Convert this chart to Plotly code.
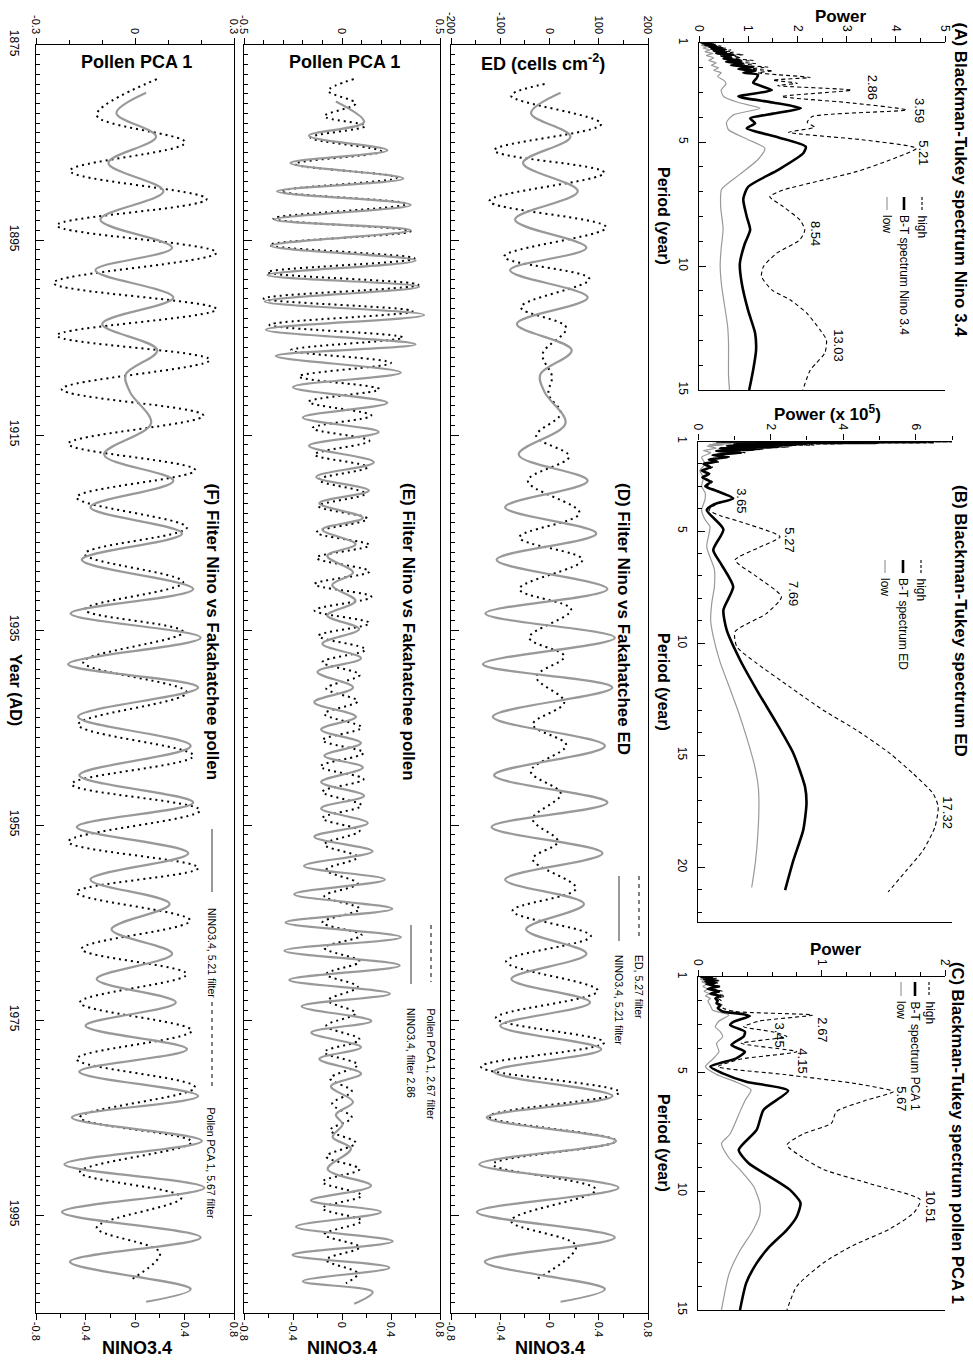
import plotly.graph_objects as go

# ---------------- DATA ----------------
# Panel A: Blackman-Tukey spectrum Nino 3.4 (period in years, power)
A_high_period = [1.0, 1.05, 1.08, 1.12, 1.15, 1.2, 1.24, 1.28, 1.32, 1.37, 1.42, 1.47, 1.52, 1.58, 1.63, 1.7, 1.76, 1.83,
                 1.9, 1.97, 2.05, 2.12, 2.2, 2.28, 2.39, 2.5, 2.62, 2.72, 2.9, 3.16, 3.4, 3.7, 3.97, 4.2, 4.4, 4.6, 4.9,
                 5.25, 5.72, 6.19, 6.59, 6.93, 7.2, 7.6, 8.14, 8.54, 8.94, 9.48, 10.02, 10.42, 10.96, 11.36, 11.9, 12.57,
                 12.98, 13.5, 13.9, 14.2, 15.0]
A_high_power = [0.08, 0.35, 0.15, 0.45, 0.25, 0.55, 0.3, 0.65, 0.4, 0.7, 0.45, 0.9, 0.6, 0.85, 0.65, 1.1, 0.7, 1.15,
                0.85, 1.4, 1.0, 1.5, 1.2, 1.6, 2.26, 1.5, 2.0, 1.6, 3.1, 1.68, 3.0, 4.22, 2.3, 2.2, 2.35, 1.82, 3.3,
                4.42, 3.88, 3.2, 2.39, 1.71, 1.44, 1.71, 2.05, 2.15, 2.05, 1.58, 1.31, 1.27, 1.48, 1.85, 2.19, 2.46,
                2.59, 2.56, 2.39, 2.26, 2.11]
A_bt_period = [1.0, 1.05, 1.08, 1.12, 1.15, 1.2, 1.24, 1.28, 1.32, 1.37, 1.42, 1.47, 1.52, 1.58, 1.63, 1.7, 1.76, 1.83,
               1.9, 1.97, 2.05, 2.12, 2.2, 2.28, 2.42, 2.6, 2.9, 3.16, 3.4, 3.63, 3.85, 4.04, 4.24, 4.44, 4.8, 5.18,
               5.45, 6.12, 6.8, 7.3, 8.0, 8.54, 9.1, 9.9, 10.7, 11.8, 12.7, 13.4, 14.2, 15.0]
A_bt_power = [0.05, 0.25, 0.12, 0.35, 0.2, 0.45, 0.25, 0.5, 0.3, 0.55, 0.35, 0.7, 0.45, 0.65, 0.5, 0.85, 0.55, 0.9,
              0.65, 1.1, 0.8, 1.15, 0.9, 1.2, 1.17, 1.1, 1.48, 0.8, 1.5, 2.07, 1.5, 1.04, 1.14, 0.97, 1.6, 2.17,
              2.12, 1.61, 1.0, 0.9, 0.97, 1.04, 0.93, 0.83, 0.87, 1.0, 1.14, 1.16, 1.1, 1.02]
A_low_period = [1.0, 1.05, 1.1, 1.15, 1.2, 1.28, 1.35, 1.42, 1.5, 1.6, 1.7, 1.8, 1.9, 2.0, 2.1, 2.2, 2.35, 2.5, 2.65,
                2.9, 3.16, 3.4, 3.63, 3.9, 4.2, 4.5, 4.9, 5.25, 5.7, 6.3, 6.9, 7.6, 8.5, 9.3, 10.0, 10.8, 11.6, 12.4,
                13.1, 13.8, 14.4, 15.0]
A_low_power = [0.02, 0.12, 0.05, 0.18, 0.08, 0.22, 0.12, 0.28, 0.15, 0.3, 0.2, 0.35, 0.25, 0.4, 0.3, 0.45, 0.38, 0.5,
               0.55, 0.45, 0.5, 0.8, 1.24, 0.7, 0.56, 0.6, 1.0, 1.34, 1.2, 0.83, 0.46, 0.44, 0.49, 0.45, 0.43, 0.46,
               0.52, 0.58, 0.6, 0.6, 0.6, 0.62]
A_peak_labels = ["2.86", "3.59", "5.21", "8.54", "13.03"]
A_label_power = [3.52, 4.47, 4.57, 2.38, 2.83]
A_label_period = [2.77, 3.74, 5.44, 8.67, 13.2]

# Panel B: Blackman-Tukey spectrum ED (power x 1e5)
B_high_period = [1.0, 1.02, 1.04, 1.06, 1.08, 1.1, 1.13, 1.16, 1.2, 1.25, 1.3, 1.35, 1.42, 1.5, 1.6, 1.7, 1.8, 1.9,
                 2.0, 2.15, 2.3, 2.45, 2.6, 2.8, 3.0, 3.2, 3.54, 3.8, 4.07, 4.3, 4.58, 5.25, 5.77, 6.29, 7.03, 7.93,
                 8.67, 9.49, 10.16, 10.9, 11.95, 12.99, 13.88, 14.92, 15.82, 16.71, 17.3, 18.2, 19.23, 20.13, 21.1]
B_high_power = [1.0, 7.0, 3.0, 6.5, 2.0, 4.0, 1.5, 3.2, 1.2, 2.5, 0.8, 1.8, 0.6, 1.3, 0.5, 0.9, 0.35, 0.6,
                0.2, 0.4, 0.15, 0.35, 0.15, 0.4, 0.25, 0.55, 0.97, 0.5, 0.3, 0.6, 1.16, 2.26, 1.62, 1.02, 1.62, 2.3,
                1.89, 1.02, 1.07, 1.62, 2.53, 3.45, 4.37, 5.29, 5.93, 6.48, 6.62, 6.53, 6.21, 5.75, 5.24]
B_bt_period = [1.0, 1.02, 1.04, 1.06, 1.08, 1.1, 1.13, 1.16, 1.2, 1.25, 1.3, 1.35, 1.42, 1.5, 1.6, 1.7, 1.8, 1.9,
               2.0, 2.15, 2.3, 2.45, 2.6, 2.8, 3.0, 3.2, 3.54, 3.8, 4.06, 4.92, 5.84, 6.5, 7.48, 8.52, 9.41, 10.75,
               12.09, 13.58, 14.92, 16.41, 17.15, 18.34, 19.68, 21.02]
B_bt_power = [0.5, 6.2, 2.0, 5.0, 1.5, 3.0, 1.0, 2.6, 0.8, 2.2, 0.6, 1.6, 0.5, 1.2, 0.4, 0.8, 0.3, 0.5,
              0.15, 0.35, 0.1, 0.3, 0.12, 0.35, 0.2, 0.5, 0.97, 0.45, 0.24, 0.70, 0.42, 0.65, 0.97, 0.70, 0.79, 1.16,
              1.62, 2.17, 2.63, 2.95, 2.99, 2.90, 2.63, 2.40]
B_low_period = [1.0, 1.02, 1.04, 1.06, 1.08, 1.1, 1.13, 1.16, 1.2, 1.3, 1.4, 1.5, 1.7, 2.0, 2.3, 2.6, 3.0, 3.3, 3.6,
                4.07, 4.5, 4.8, 5.7, 6.7, 7.5, 8.2, 9.0, 9.7, 10.8, 11.9, 13.0, 14.2, 15.4, 16.4, 17.2, 18.5, 19.8,
                20.9]
B_low_power = [0.2, 1.8, 0.6, 1.4, 0.4, 0.9, 0.3, 0.7, 0.25, 0.5, 0.15, 0.35, 0.1, 0.2, 0.05, 0.15, 0.1, 0.2, 0.19,
               0.1, 0.2, 0.33, 0.24, 0.45, 0.45, 0.38, 0.35, 0.42, 0.6, 0.85, 1.1, 1.34, 1.55, 1.66, 1.68, 1.65, 1.58,
               1.48]
B_peak_labels = ["3.65", "5.27", "7.69", "17.32"]
B_label_power = [1.20, 2.53, 2.63, 6.87]
B_label_period = [3.64, 5.40, 7.78, 17.56]

# Panel C: Blackman-Tukey spectrum pollen PCA 1
C_high_period = [1.0, 1.05, 1.1, 1.15, 1.2, 1.25, 1.3, 1.4, 1.5, 1.6, 1.7, 1.8, 1.9, 2.0, 2.1, 2.2, 2.3, 2.45, 2.6,
                 2.85, 3.09, 3.3, 3.5, 3.79, 4.14, 4.45, 4.77, 5.1, 5.5, 5.82, 6.2, 6.66, 7.15, 7.6, 8.06, 8.6, 9.1,
                 9.7, 10.37, 10.9, 11.6, 12.3, 13.0, 14.0, 15.0]
C_high_power = [0.03, 0.15, 0.06, 0.18, 0.07, 0.16, 0.08, 0.19, 0.09, 0.2, 0.12, 0.22, 0.16, 0.19, 0.17, 0.2, 0.2,
                0.3, 0.93, 0.5, 0.37, 0.6, 0.72, 0.35, 0.80, 0.35, 0.16, 0.7, 1.3, 1.58, 1.35, 1.12, 1.08, 0.85, 0.72,
                0.85, 1.02, 1.4, 1.80, 1.75, 1.55, 1.25, 1.02, 0.8, 0.72]
C_bt_period = [1.0, 1.05, 1.1, 1.15, 1.2, 1.25, 1.3, 1.4, 1.5, 1.6, 1.7, 1.8, 1.9, 2.0, 2.1, 2.2, 2.3, 2.45, 2.55,
               2.64, 2.88, 3.02, 3.3, 3.5, 3.86, 4.14, 4.42, 4.77, 5.05, 5.4, 5.78, 6.59, 7.43, 8.27, 8.83, 9.39,
               9.95, 10.5, 11.07, 11.63, 12.33, 13.03, 13.87, 15.0]
C_bt_power = [0.02, 0.12, 0.05, 0.15, 0.06, 0.14, 0.07, 0.16, 0.08, 0.17, 0.1, 0.18, 0.14, 0.16, 0.15, 0.18, 0.16,
              0.2, 0.35, 0.42, 0.29, 0.26, 0.38, 0.37, 0.27, 0.38, 0.31, 0.10, 0.2, 0.39, 0.73, 0.53, 0.475, 0.33,
              0.41, 0.58, 0.745, 0.83, 0.80, 0.72, 0.58, 0.475, 0.39, 0.34]
C_low_period = [1.0, 1.05, 1.1, 1.15, 1.2, 1.3, 1.4, 1.5, 1.6, 1.7, 1.8, 1.9, 2.0, 2.2, 2.4, 2.6, 2.85, 3.09, 3.3,
                3.5, 3.8, 4.14, 4.45, 4.77, 5.1, 5.4, 5.75, 6.2, 6.66, 7.6, 8.0, 8.6, 9.1, 9.8, 10.5, 11.0, 11.7, 12.5,
                13.5, 15.0]
C_low_power = [0.01, 0.06, 0.02, 0.08, 0.03, 0.07, 0.04, 0.08, 0.05, 0.09, 0.06, 0.1, 0.08, 0.1, 0.12, 0.25, 0.17,
               0.14, 0.18, 0.2, 0.15, 0.17, 0.12, 0.06, 0.15, 0.3, 0.43, 0.38, 0.34, 0.26, 0.19, 0.25, 0.34, 0.45,
               0.50, 0.5, 0.44, 0.34, 0.25, 0.19]
C_peak_labels = ["2.67", "3.45", "4.15", "5.67", "10.51"]
C_label_power = [1.01, 0.66, 0.845, 1.65, 1.88]
C_label_period = [3.23, 3.44, 4.52, 6.13, 10.65]

# NINO3.4, 5.21 filter (used in D and F)
NINO521_year = [1879.9, 1882.0, 1884.4, 1887.1, 1890.0, 1892.9, 1895.8, 1898.1, 1900.9, 1903.6, 1906.3, 1908.8,
                1910.6, 1913.8, 1917.0, 1919.7, 1922.4, 1925.1, 1927.8, 1930.8, 1933.3, 1935.8, 1938.5, 1940.9,
                1943.9, 1946.9, 1949.9, 1952.7, 1955.2, 1957.9, 1960.6, 1963.1, 1965.7, 1968.2, 1970.8, 1973.2,
                1975.6, 1978.0, 1980.3, 1982.8, 1985.0, 1987.4, 1989.8, 1992.2, 1994.7, 1997.3, 1999.8, 2002.6,
                2003.9]
NINO521_val = [0.09, -0.15, 0.17, -0.215, 0.23, -0.28, 0.30, -0.32, 0.31, -0.265, 0.18, -0.075,
               -0.04, 0.13, -0.25, 0.31, -0.36, 0.38, -0.43, 0.47, -0.52, 0.53, -0.54, 0.51,
               -0.46, 0.45, -0.45, 0.47, -0.47, 0.43, -0.36, 0.28, -0.19, 0.30, -0.31, 0.33,
               -0.40, 0.42, -0.45, 0.51, -0.51, 0.54, -0.57, 0.56, -0.59, 0.53, -0.525, 0.45, 0.09]

# ED, 5.27 filter (panel D)
ED527_year = [1879.0, 1880.2, 1883.1, 1885.8, 1888.1, 1891.0, 1893.7, 1896.7, 1899.0, 1901.9, 1904.0, 1906.7,
              1909.0, 1910.8, 1912.8, 1915.1, 1917.2, 1919.7, 1923.0, 1925.5, 1927.8, 1930.8, 1932.9, 1935.8,
              1937.7, 1939.8, 1942.4, 1944.7, 1946.8, 1949.5, 1951.8, 1954.4, 1956.7, 1958.5, 1961.5, 1963.8,
              1966.4, 1969.0, 1972.0, 1974.8, 1977.3, 1979.8, 1982.4, 1984.9, 1987.4, 1989.8, 1992.4, 1995.6,
              1998.2, 2001.6]
ED527_val = [-10, -78, 105, -112, 111, -122, 115, -92, 81, -58, 34, -14,
             5, -2, 23, -27, 40, -44, 61, -61, 67, -61, 44, -41,
             30, -27, 30, -34, 34, -38, 23, -34, 17, -34, 54, -75,
             84, -88, 98, -109, 111, -139, 142, -122, 135, -115, 94, -78,
             54, -27]

# NINO3.4, filter 2.86 (panel E)
NINO286_year = [1880.8, 1882.9, 1884.3, 1885.8, 1887.1, 1888.7, 1890.0, 1891.4, 1892.9, 1894.0, 1895.6, 1897.1,
                1898.6, 1899.8, 1901.3, 1902.7, 1904.2, 1905.7, 1906.9, 1908.6, 1910.1, 1911.7, 1913.2, 1914.7,
                1916.1, 1917.8, 1919.3, 1920.7, 1922.0, 1923.5, 1924.7, 1926.2, 1927.4, 1929.1, 1930.4, 1932.0,
                1933.5, 1934.9, 1936.4, 1937.9, 1939.3, 1940.9, 1942.4, 1943.9, 1945.2, 1946.6, 1947.9, 1949.1,
                1950.6, 1952.0, 1953.3, 1954.8, 1956.2, 1957.7, 1959.2, 1960.6, 1962.1, 1963.6, 1965.0, 1966.5,
                1967.9, 1969.4, 1970.9, 1972.3, 1973.6, 1975.1, 1976.3, 1977.8, 1979.0, 1980.5, 1981.8, 1983.4,
                1984.7, 1985.7, 1987.0, 1988.2, 1990.3, 1992.0, 1993.5, 1994.7, 1996.2, 1997.7, 1999.1, 2000.4,
                2001.8, 2002.9, 2004.1]
NINO286_val = [-0.05, 0.18, -0.27, 0.37, -0.42, 0.50, -0.53, 0.56, -0.55, 0.56, -0.58, 0.60,
               -0.61, 0.63, -0.63, 0.67, -0.62, 0.60, -0.54, 0.48, -0.40, 0.37, -0.32, 0.30,
               -0.27, 0.26, -0.21, 0.22, -0.185, 0.17, -0.16, 0.11, -0.12, 0.09, -0.08, 0.11,
               -0.12, 0.14, -0.16, 0.155, -0.20, 0.09, -0.226, 0.114, -0.17, 0.155, -0.144, 0.17,
               -0.17, 0.18, -0.17, 0.21, -0.226, 0.25, -0.31, 0.35, -0.39, 0.41, -0.46, 0.48,
               -0.47, 0.47, -0.43, 0.39, -0.33, 0.24, -0.25, 0.155, -0.185, 0.155, -0.09, 0.09,
               -0.05, 0.005, -0.076, 0.073, -0.117, 0.237, -0.253, 0.318, -0.375, 0.414, -0.403, 0.386,
               -0.32, 0.25, 0.10]

# Pollen PCA 1, 2.67 filter (panel E)
PCA267_year = [1878.5, 1879.7, 1881.0, 1882.3, 1883.3, 1884.5, 1885.9, 1887.2, 1888.6, 1890.0, 1891.3, 1892.8,
               1894.1, 1895.5, 1896.9, 1898.3, 1899.6, 1901.0, 1902.3, 1903.7, 1905.0, 1906.3, 1907.6, 1909.0,
               1910.3, 1911.6, 1913.0, 1914.3, 1915.6, 1917.0, 1918.3, 1919.6, 1921.0, 1922.3, 1923.6, 1925.0,
               1926.3, 1927.6, 1929.0, 1930.3, 1931.6, 1933.0, 1934.3, 1935.6, 1937.0, 1938.3, 1939.6, 1941.0,
               1942.3, 1943.6, 1945.0, 1946.3, 1947.6, 1949.0, 1950.3, 1951.6, 1953.0, 1954.3, 1955.6, 1957.0,
               1958.3, 1959.6, 1961.0, 1962.3, 1963.6, 1965.0, 1966.3, 1967.6, 1969.0, 1970.3, 1971.6, 1973.0,
               1974.3, 1975.6, 1977.0, 1978.3, 1979.6, 1981.0, 1982.3, 1983.6, 1985.0, 1986.3, 1987.6, 1989.0,
               1990.3, 1991.6, 1993.0, 1994.3, 1995.6, 1997.0, 1998.3, 1999.6, 2001.0, 2002.0]
PCA267_val = [0.06, -0.07, 0.07, -0.09, 0.12, -0.16, 0.20, -0.24, 0.28, -0.31, 0.33, -0.35,
              0.35, -0.37, 0.37, -0.38, 0.39, -0.40, 0.36, -0.37, 0.31, -0.26, 0.25, -0.22,
              0.19, -0.17, 0.15, -0.15, 0.14, -0.14, 0.13, -0.12, 0.12, -0.12, 0.13, -0.13,
              0.14, -0.13, 0.14, -0.14, 0.15, -0.14, 0.14, -0.12, 0.12, -0.10, 0.09, -0.08,
              0.08, -0.09, 0.10, -0.10, 0.11, -0.11, 0.11, -0.10, 0.10, -0.10, 0.09, -0.09,
              0.08, -0.08, 0.08, -0.09, 0.09, -0.10, 0.10, -0.09, 0.09, -0.08, 0.08, -0.07,
              0.07, -0.08, 0.09, -0.09, 0.08, -0.06, 0.05, -0.05, 0.05, -0.06, 0.07, -0.08,
              0.09, -0.10, 0.10, -0.10, 0.10, -0.09, 0.09, -0.08, 0.08, 0.02]

# Pollen PCA 1, 5.67 filter (panel F)
PCA567_year = [1878.5, 1882.2, 1885.0, 1887.9, 1890.8, 1893.5, 1896.3, 1899.4, 1902.1, 1904.8, 1907.3, 1910.3,
               1913.0, 1915.9, 1918.6, 1921.4, 1924.5, 1927.2, 1930.1, 1932.9, 1935.2, 1938.3, 1941.4, 1944.7,
               1947.9, 1950.8, 1953.5, 1956.7, 1959.4, 1961.9, 1964.8, 1967.7, 1970.3, 1973.2, 1976.1, 1979.0,
               1981.9, 1985.0, 1987.5, 1990.6, 1993.2, 1996.3, 1998.9, 2001.7]
PCA567_val = [0.066, -0.116, 0.152, -0.197, 0.217, -0.237, 0.247, -0.247, 0.247, -0.237, 0.227, -0.222,
              0.207, -0.202, 0.182, -0.177, 0.157, -0.152, 0.146, -0.152, 0.146, -0.157, 0.157, -0.172,
              0.177, -0.192, 0.197, -0.202, 0.192, -0.177, 0.167, -0.162, 0.157, -0.167, 0.172, -0.177,
              0.182, -0.167, 0.172, -0.167, 0.141, -0.116, 0.076, -0.015]

# Tick labels
POWER_A_TICKS = [0, 1, 2, 3, 4, 5]
POWER_B_TICKS = [0, 2, 4, 6]
POWER_C_TICKS = [0, 1, 2]
PERIOD_TICKS_15 = [1, 5, 10, 15]
PERIOD_TICKS_20 = [1, 5, 10, 15, 20]
YEAR_TICKS = [1875, 1895, 1915, 1935, 1955, 1975, 1995]
ED_TICKS = [-200, -100, 0, 100, 200]
PCA_E_TICKS = [-0.5, 0, 0.5]
PCA_F_TICKS = [-0.3, 0, 0.3]
NINO_TICKS = [-0.8, -0.4, 0, 0.4, 0.8]

# ---------------- FIGURE ----------------
W, H = 973, 1363
FONT = "Liberation Sans, Arial, sans-serif"
GRAY = "#999999"


def PX(x):
    return x / W


def PY(y):
    return 1 - y / H


def lab(v):
    return "%g" % v


def frange(a, b, step):
    out = []
    n = int(round((b - a) / step))
    for i in range(n + 1):
        out.append(round(a + i * step, 6))
    return out


fig = go.Figure()


def spec_traces(xa, ya, hp, hv, bp, bv, lp, lv):
    fig.add_trace(go.Scatter(x=lv, y=lp, xaxis=xa, yaxis=ya, mode="lines",
                             line=dict(color=GRAY, width=1.2, shape="spline", smoothing=0.6), hoverinfo="skip"))
    fig.add_trace(go.Scatter(x=hv, y=hp, xaxis=xa, yaxis=ya, mode="lines",
                             line=dict(color="black", width=1.1, dash="4px,3px", shape="spline", smoothing=0.6),
                             hoverinfo="skip"))
    fig.add_trace(go.Scatter(x=bv, y=bp, xaxis=xa, yaxis=ya, mode="lines",
                             line=dict(color="black", width=2.6, shape="spline", smoothing=0.6), hoverinfo="skip"))


spec_traces("x", "y", A_high_period, A_high_power, A_bt_period, A_bt_power, A_low_period, A_low_power)
spec_traces("x2", "y2", B_high_period, B_high_power, B_bt_period, B_bt_power, B_low_period, B_low_power)
spec_traces("x3", "y3", C_high_period, C_high_power, C_bt_period, C_bt_power, C_low_period, C_low_power)


def ts_traces(xa_top, xa_bot, ya, dy, dv, gy, gv):
    fig.add_trace(go.Scatter(x=gv, y=gy, xaxis=xa_bot, yaxis=ya, mode="lines",
                             line=dict(color=GRAY, width=2.2, shape="spline", smoothing=1.0), hoverinfo="skip"))
    fig.add_trace(go.Scatter(x=dv, y=dy, xaxis=xa_top, yaxis=ya, mode="lines",
                             line=dict(color="black", width=2, dash="2px,4px", shape="spline", smoothing=1.0),
                             hoverinfo="skip"))


ts_traces("x4", "x5", "y4", ED527_year, ED527_val, NINO521_year, NINO521_val)
ts_traces("x6", "x7", "y5", PCA267_year, PCA267_val, NINO286_year, NINO286_val)
ts_traces("x8", "x9", "y6", PCA567_year, PCA567_val, NINO521_year, NINO521_val)

AX = dict(showgrid=False, zeroline=False, showline=True, linecolor="black", linewidth=1.2,
          tickcolor="black", tickwidth=1, tickfont=dict(family=FONT, size=12, color="black"),
          automargin=False)


def power_axis(dom, rng, ticks, minor_step, yname):
    d = dict(AX)
    d.update(domain=dom, range=rng, side="top", anchor=yname, mirror=True, ticks="outside", ticklen=6,
             tickmode="array", tickvals=ticks, ticktext=[lab(t) for t in ticks], tickangle=90,
             minor=dict(tickmode="array", tickvals=frange(rng[0], rng[1], minor_step), ticks="outside",
                        ticklen=4, tickcolor="black", showgrid=False))
    return d


def period_axis(dom, pmax, ticks, xname):
    d = dict(AX)
    d.update(domain=dom, range=[pmax, 1], anchor=xname, ticks="inside", ticklen=7, mirror=False,
             tickmode="array", tickvals=ticks, ticktext=[lab(t) for t in ticks], tickangle=90,
             ticklabelstandoff=4,
             minor=dict(tickmode="array", tickvals=list(range(1, int(pmax) + 1)), ticks="inside",
                        ticklen=4, tickcolor="black", showgrid=False))
    return d


layout = dict(width=W, height=H, margin=dict(l=0, r=0, t=0, b=0, autoexpand=False), paper_bgcolor="white",
              plot_bgcolor="white", showlegend=False, font=dict(family=FONT, color="black"))

layout["xaxis"] = power_axis([PX(699), PX(945)], [0, 5], POWER_A_TICKS, 0.5, "y")
layout["yaxis"] = period_axis([PY(390), PY(43)], 15, PERIOD_TICKS_15, "x")
layout["xaxis2"] = power_axis([PX(698), PX(952)], [0, 7], POWER_B_TICKS, 1, "y2")
layout["yaxis2"] = period_axis([PY(922), PY(441.5)], 22.44, PERIOD_TICKS_20, "x2")
layout["xaxis3"] = power_axis([PX(698), PX(945)], [0, 2], POWER_C_TICKS, 0.2, "y3")
layout["yaxis3"] = period_axis([PY(1310), PY(977)], 15, PERIOD_TICKS_15, "x3")

YDOM = [PY(1312.5), PY(45)]


def top_axis(dom, rng, ticks, minor_step, yname):
    d = dict(AX)
    d.update(domain=dom, range=rng, side="top", anchor=yname, ticks="outside", ticklen=6,
             tickmode="array", tickvals=ticks, ticktext=[lab(t) for t in ticks], tickangle=90,
             tickfont=dict(family=FONT, size=11, color="black"),
             minor=dict(tickmode="array", tickvals=frange(rng[0], rng[1], minor_step), ticks="outside",
                        ticklen=4, tickcolor="black", showgrid=False))
    return d


def bottom_axis(dom, over, yname):
    d = dict(AX)
    d.update(domain=dom, range=[-0.8, 0.8], side="bottom", anchor=yname, overlaying=over, ticks="outside",
             ticklen=6, tickmode="array", tickvals=NINO_TICKS, ticktext=[lab(t) for t in NINO_TICKS],
             tickangle=90, tickfont=dict(family=FONT, size=11, color="black"),
             minor=dict(tickmode="array", tickvals=frange(-0.8, 0.8, 0.2), ticks="outside", ticklen=4,
                        tickcolor="black", showgrid=False))
    return d


def year_axis(xname, labels):
    d = dict(AX)
    d.update(domain=YDOM, range=[2005, 1875], anchor=xname, mirror=True, ticks="inside", ticklen=8,
             tickmode="array", tickvals=YEAR_TICKS, ticktext=[str(t) for t in YEAR_TICKS], tickangle=90,
             showticklabels=labels, tickfont=dict(family=FONT, size=12, color="black"),
             ticklabelstandoff=10,
             minor=dict(tickmode="array", tickvals=list(range(1875, 2006)), ticks="inside", ticklen=4,
                        tickcolor="black", showgrid=False))
    return d


DDOM = [PX(451), PX(648)]
EDOM = [PX(244), PX(440)]
FDOM = [PX(36), PX(234)]
layout["xaxis4"] = top_axis(DDOM, [-200, 200], ED_TICKS, 50, "y4")
layout["xaxis5"] = bottom_axis(DDOM, "x4", "y4")
layout["yaxis4"] = year_axis("x4", False)
layout["xaxis6"] = top_axis(EDOM, [-0.5, 0.5], PCA_E_TICKS, 0.1, "y5")
layout["xaxis7"] = bottom_axis(EDOM, "x6", "y5")
layout["yaxis5"] = year_axis("x6", False)
layout["xaxis8"] = top_axis(FDOM, [-0.3, 0.3], PCA_F_TICKS, 0.1, "y6")
layout["xaxis9"] = bottom_axis(FDOM, "x8", "y6")
layout["yaxis6"] = year_axis("x8", True)

ann = []


def txt(x, y, s, size=12, bold=False, angle=0, xa="center", ya="middle", xref="paper", yref="paper"):
    if bold:
        s = "<b>" + s + "</b>"
    ann.append(dict(x=x, y=y, xref=xref, yref=yref, text=s, showarrow=False, textangle=angle,
                    xanchor=xa, yanchor=ya, font=dict(family=FONT, size=size, color="black")))


# axis titles
txt(PX(840), PY(17), "Power", 17, True)
txt(PX(827), PY(413), "Power (x 10<sup>5</sup>)", 17, True)
txt(PX(835), PY(949), "Power", 17, True)
for yc in (216, 682, 1143):
    txt(PX(664), PY(yc), "Period (year)", 16, True, 90)
txt(PX(16), PY(690), "Year (AD)", 16, True, 90)
txt(PX(136), PY(62), "Pollen PCA 1", 18, True)
txt(PX(344), PY(62), "Pollen PCA 1", 18, True)
txt(PX(543), PY(62), "ED (cells cm<sup>-2</sup>)", 18, True)
for xc in (137, 342, 550):
    txt(PX(xc), PY(1348), "NINO3.4", 18, True)

# panel titles
txt(PX(960), PY(20), "(A) Blackman-Tukey spectrum Nino 3.4", 17, True, 90, ya="top")
txt(PX(960), PY(483), "(B) Blackman-Tukey spectrum ED", 17, True, 90, ya="top")
txt(PX(958), PY(960), "(C) Blackman-Tukey spectrum pollen PCA 1", 16.5, True, 90, ya="top")
txt(PX(624), PY(481), "(D) Filter Nino vs Fakahatchee ED", 17, True, 90, ya="top")
txt(PX(409), PY(481), "(E) Filter Nino vs Fakahatchee pollen", 17, True, 90, ya="top")
txt(PX(212), PY(481), "(F) Filter Nino vs Fakahatchee pollen", 17, True, 90, ya="top")

# peak labels (data coordinates)
for labs, pw, pr, xr, yr in ((A_peak_labels, A_label_power, A_label_period, "x", "y"),
                             (B_peak_labels, B_label_power, B_label_period, "x2", "y2"),
                             (C_peak_labels, C_label_power, C_label_period, "x3", "y3")):
    for s, xv, yv in zip(labs, pw, pr):
        txt(xv, yv, s, 13, False, 90, xref=xr, yref=yr)

shapes = []


def sample(x, y0, y1, color, width, dash="solid"):
    shapes.append(dict(type="line", xref="paper", yref="paper", x0=PX(x), x1=PX(x), y0=PY(y0), y1=PY(y1),
                       line=dict(color=color, width=width, dash=dash)))


# spectra legends
for (xs, ys, ts, entries) in ((
        (922, 904, 887), (197, 210), 213, ("high", "B-T spectrum Nino 3.4", "low")),
        ((921, 903, 885), (560, 573), 576, ("high", "B-T spectrum ED", "low")),
        ((929, 915, 901), (982, 996), 999, ("high", "B-T spectrum PCA 1", "low"))):
    sample(xs[0], ys[0], ys[1], "black", 1.1, "3px,2px")
    sample(xs[1], ys[0], ys[1], "black", 2.6)
    sample(xs[2], ys[0], ys[1], GRAY, 1.2)
    for xx, s in zip(xs, entries):
        txt(PX(xx), PY(ts), s, 12, False, 90, ya="top")

# time-series legends
sample(639, 876, 939, "black", 1, "4px,4px")
txt(PX(639), PY(953), "ED, 5.27 filter", 10.5, False, 90, ya="top")
sample(619, 876, 941, GRAY, 2)
txt(PX(619), PY(953), "NINO3.4, 5.21 filter", 10.5, False, 90, ya="top")

sample(431, 925, 982, "black", 1, "4px,4px")
txt(PX(431), PY(1006), "Pollen PCA 1, 2.67 filter", 10.5, False, 90, ya="top")
sample(411, 925, 984, GRAY, 2)
txt(PX(411), PY(1006), "NINO3.4, filter 2.86", 10.5, False, 90, ya="top")

sample(212, 829, 892, GRAY, 2)
txt(PX(212), PY(906), "NINO3.4, 5.21 filter", 10.5, False, 90, ya="top")
sample(212, 1002, 1088, "black", 1, "4px,4px")
txt(PX(211), PY(1105), "Pollen PCA 1, 5.67 filter", 10.5, False, 90, ya="top")

layout["annotations"] = ann
layout["shapes"] = shapes
fig.update_layout(**layout)
fig.write_html("out.html")
